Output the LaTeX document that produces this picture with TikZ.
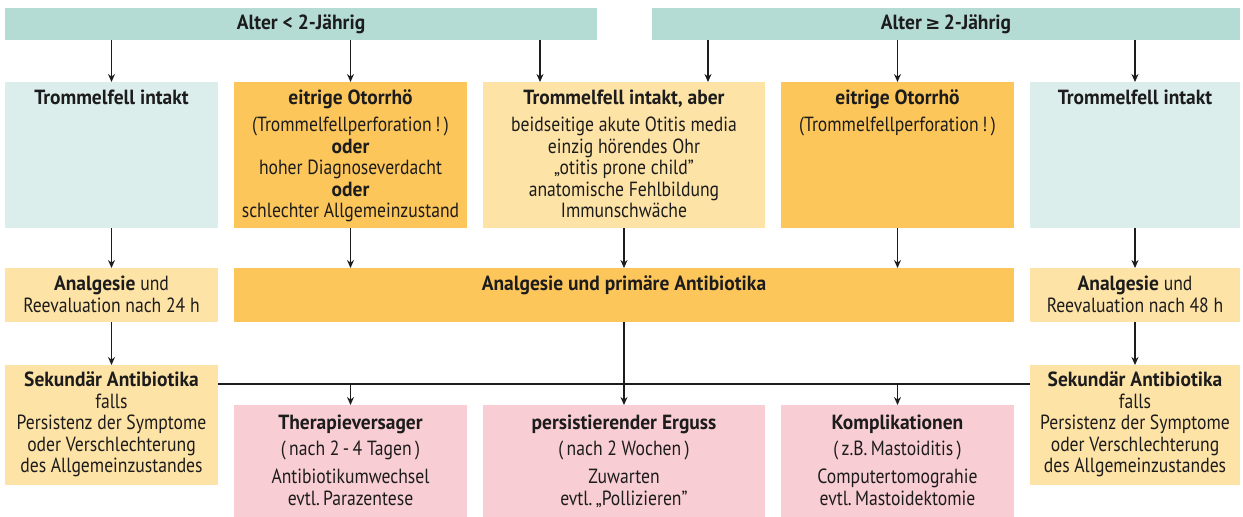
\documentclass[tikz,border=0pt]{standalone}
\usepackage{fontspec}
\setmainfont[FakeStretch=0.86, BoldFeatures={FakeStretch=0.95}]{PT Sans}
\newfontfamily\symfont{DejaVu Sans}
\usepackage{tikz}
\usetikzlibrary{positioning}
\usetikzlibrary{arrows.meta}
\definecolor{agebar}{HTML}{B4DCD5}
\definecolor{intactfill}{HTML}{DCEEEB}
\definecolor{orangefill}{HTML}{FDC65A}
\definecolor{paleorange}{HTML}{FEE3A6}
\definecolor{pinkfill}{HTML}{F8CDD3}
\definecolor{ink}{HTML}{1C1C1C}
\newcommand{\fsz}{\fontsize{20.5}{21.5}\selectfont}
\tikzset {
  % plain coloured boxes, no outline
  box/.style={anchor=north west, inner sep=0pt, outer sep=0pt},
  agebox/.style={box, fill=agebar, minimum height=32pt},
  intact/.style={box, fill=intactfill},
  urgent/.style={box, fill=orangefill},
  mild/.style={box, fill=paleorange},
  outcome/.style={box, fill=pinkfill, minimum height=112pt},
  tall/.style={minimum height=146pt},
  flat/.style={minimum height=54pt},
  second/.style={box, fill=paleorange, minimum height=120pt},
  % text that sits at the top of a box
  txt/.style={anchor=north, align=center, inner sep=0pt, font=\fsz, text=ink},
  % connectors
  flow/.style={-{Stealth[length=8pt, width=7pt]}, line width=1.5pt, ink},
  bus/.style={line width=1.5pt, ink},
}
\begin{document}
\begin{tikzpicture}[x=1pt, y=-1pt]
  \useasboundingbox (0,0) rectangle (1243,517);

  % age bars
  \node[agebox, minimum width=592pt] (young) at (5,8) {};
  \node[agebox, minimum width=588pt] (old) at (652,8) {};
  \node[txt, anchor=center] (youngt) at (young) {\bfseries Alter < 2-Jährig};
  \node[txt, anchor=center] (oldt) at (old) {\bfseries Alter\,{\symfont\fontsize{18}{20}\selectfont ≥}\,2-Jährig};

  % findings
  \node[intact, tall, minimum width=213pt] (A) at (5,82) {};
  \node[urgent, tall, minimum width=233pt] (B) [right=16pt of A] {};
  \node[mild, tall, minimum width=282pt] (C) [right=16pt of B] {};
  \node[urgent, tall, minimum width=233pt] (D) [right=16pt of C] {};
  \node[intact, tall, minimum width=210pt] (E) [right=16pt of D] {};

  \node[txt] (At) at ([yshift=-8pt]A.north) {\bfseries Trommelfell intakt};
  \node[txt] (Bt) at ([yshift=-8pt]B.north) {{\bfseries eitrige Otorrhö}\\[5.5pt]
    (Trommelfellperforation\,!\,)\\ {\bfseries oder}\\ hoher Diagnoseverdacht\\
    {\bfseries oder}\\ schlechter Allgemeinzustand};
  \node[txt] (Ct) at ([yshift=-8pt]C.north) {{\bfseries Trommelfell intakt, aber}\\[5.5pt]
    beidseitige akute Otitis media\\ einzig hörendes Ohr\\ „otitis prone child”\\
    anatomische Fehlbildung\\ Immunschwäche};
  \node[txt] (Dt) at ([yshift=-8pt]D.north) {{\bfseries eitrige Otorrhö}\\[5.5pt]
    (Trommelfellperforation\,!\,)};
  \node[txt] (Et) at ([yshift=-8pt]E.north) {\bfseries Trommelfell intakt};

  % first treatment
  \node[mild, flat, minimum width=213pt] (wait24) [below=40pt of A] {};
  \node[urgent, flat, minimum width=780pt] (prim) at (234,268) {};
  \node[mild, flat, minimum width=210pt] (wait48) [below=40pt of E] {};

  \node[txt] (wait24t) at ([yshift=-8pt]wait24.north) {{\bfseries Analgesie} und\\ Reevaluation nach 24 h};
  \node[txt] (primt) at ([yshift=-8pt]prim.north) {\bfseries Analgesie und primäre Antibiotika};
  \node[txt] (wait48t) at ([yshift=-8pt]wait48.north) {{\bfseries Analgesie} und\\ Reevaluation nach 48 h};

  % second line and outcomes
  \node[second, minimum width=213pt] (secL) [below=43pt of wait24] {};
  \node[second, minimum width=210pt] (secR) [below=43pt of wait48] {};
  \node[outcome, minimum width=233pt] (fail) at (234,405) {};
  \node[outcome, minimum width=282pt] (eff) at (483,405) {};
  \node[outcome, minimum width=233pt] (compl) at (781,405) {};

  \node[txt] (secLt) at ([yshift=-7pt]secL.north) {{\bfseries Sekundär Antibiotika}\\ falls\\
    Persistenz der Symptome\\ oder Verschlechterung\\ des Allgemeinzustandes};
  \node[txt] (secRt) at ([yshift=-7pt]secR.north) {{\bfseries Sekundär Antibiotika}\\ falls\\
    Persistenz der Symptome\\ oder Verschlechterung\\ des Allgemeinzustandes};
  \node[txt] (failt) at ([yshift=-10pt]fail.north) {{\bfseries Therapieversager}\\[4.5pt]
    (\,nach 2\,-\,4 Tagen\,)\\[6.5pt] Antibiotikumwechsel\\ evtl.\,Parazentese};
  \node[txt] (efft) at ([yshift=-10pt]eff.north) {{\bfseries persistierender Erguss}\\[4.5pt]
    (\,nach 2 Wochen\,)\\[6.5pt] Zuwarten\\ evtl.\,„Pollizieren”};
  \node[txt] (complt) at ([yshift=-10pt]compl.north) {{\bfseries Komplikationen}\\[4.5pt]
    (\,z.B.\,Mastoiditis\,)\\[6.5pt] Computertomograhie\\ evtl.\,Mastoidektomie};

  % arrows from the age bars
  \coordinate (Cin) at ([xshift=-84pt]C.north);
  \coordinate (Cin2) at ([xshift=84pt]C.north);
  \draw[flow] (young.south -| A.north) -- (A.north);
  \draw[flow] (young.south -| B.north) -- (B.north);
  \draw[flow] (young.south -| Cin) -- (Cin);
  \draw[flow] (old.south -| Cin2) -- (Cin2);
  \draw[flow] (old.south -| D.north) -- (D.north);
  \draw[flow] (old.south -| E.north) -- (E.north);

  % down to treatment
  \draw[flow] (A.south) -- (wait24.north);
  \draw[flow] (B.south) -- (B.south |- prim.north);
  \draw[flow] (C.south) -- (C.south |- prim.north);
  \draw[flow] (D.south) -- (D.south |- prim.north);
  \draw[flow] (E.south) -- (wait48.north);
  \draw[flow] (wait24.south) -- (secL.north);
  \draw[flow] (wait48.south) -- (secR.north);

  % outcomes
  \coordinate (busL) at ([yshift=-19pt]secL.north east);
  \coordinate (busR) at ([yshift=-19pt]secR.north west);
  \draw[bus] (busL) -- (busR);
  \draw[flow] (prim.south -| eff.north) -- (eff.north);
  \draw[flow] (busL -| fail.north) -- (fail.north);
  \draw[flow] (busL -| compl.north) -- (compl.north);
\end{tikzpicture}
\end{document}
